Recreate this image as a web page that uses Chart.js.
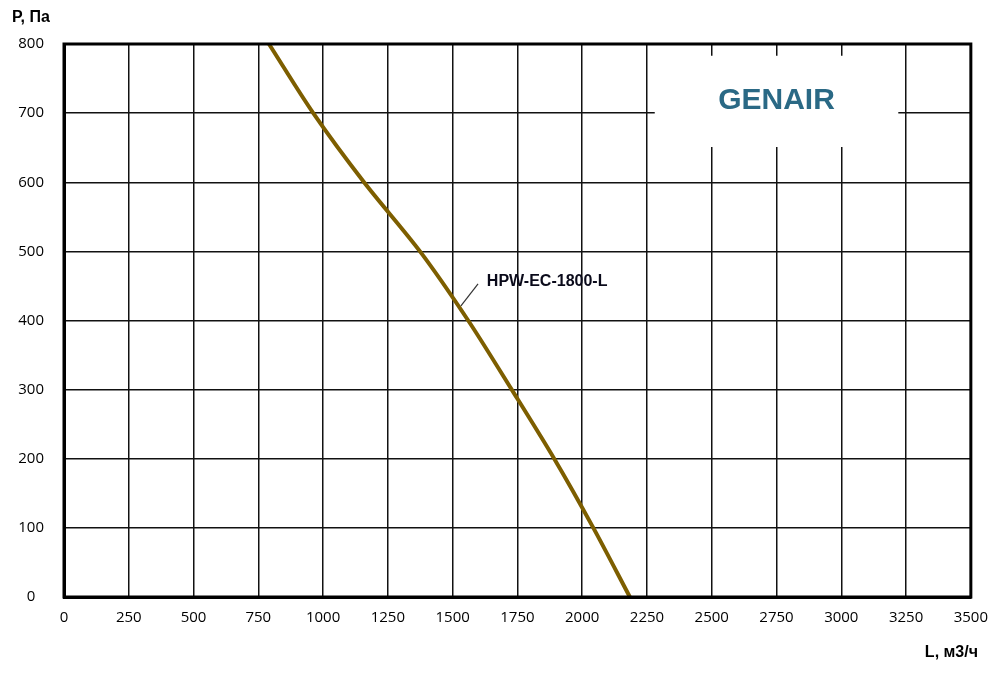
<!DOCTYPE html>
<html>
<head>
<meta charset="utf-8">
<script src="https://cdn.jsdelivr.net/npm/chart.js@4/dist/chart.umd.min.js"></script>
<style>
html,body{margin:0;padding:0;background:#fff;}
#wrap{width:1000px;height:675px;}
</style>
</head>
<body>
<div id="wrap"><canvas id="c" width="1000" height="675"></canvas></div>
<script>
// ---- data ----
const flowValues = [791, 962, 1158, 1374, 1560, 1728, 1892, 2043, 2184];
const pressureValues = [800, 700, 600, 500, 400, 300, 200, 100, 0];
const seriesName = 'HPW-EC-1800-L';
const xTickStep = 250, xMin = 0, xMax = 3500;
const yTickStep = 100, yMin = 0, yMax = 800;
const yAxisTitle = 'P, Па';
const xAxisTitle = 'L, м3/ч';
const brandText = 'GENAIR';

const points = flowValues.map((x, i) => ({x: x, y: pressureValues[i]}));

const overlay = {
  id: 'overlay',
  beforeDatasetsDraw(chart) {
    const {ctx, scales: {x, y}} = chart;
    ctx.save();
    ctx.fillStyle = '#ffffff';
    const l = x.getPixelForValue(2280), r = x.getPixelForValue(3220);
    const t = y.getPixelForValue(783), b = y.getPixelForValue(651);
    ctx.fillRect(l, t, r - l, b - t);
    ctx.restore();
  },
  afterDatasetsDraw(chart) {
    const {ctx, chartArea: a, scales: {x, y}} = chart;
    ctx.save();
    ctx.strokeStyle = '#000';
    ctx.lineWidth = 3;
    ctx.strokeRect(a.left, a.top, a.right - a.left, a.bottom - a.top);
    ctx.fillStyle = '#2a6985';
    ctx.font = 'bold 30px "Liberation Sans", Arial, sans-serif';
    ctx.textAlign = 'center';
    ctx.textBaseline = 'middle';
    ctx.fillText(brandText, x.getPixelForValue(2750), y.getPixelForValue(718));
    ctx.strokeStyle = '#333';
    ctx.lineWidth = 1.2;
    ctx.beginPath();
    ctx.moveTo(x.getPixelForValue(1532), y.getPixelForValue(421));
    ctx.lineTo(x.getPixelForValue(1598), y.getPixelForValue(453));
    ctx.stroke();
    ctx.fillStyle = '#0a0a1a';
    ctx.font = 'bold 16px "Liberation Sans", Arial, sans-serif';
    ctx.textAlign = 'left';
    ctx.fillText(seriesName, x.getPixelForValue(1632), y.getPixelForValue(456));
    ctx.fillStyle = '#000';
    ctx.font = 'bold 16px "Liberation Sans", Arial, sans-serif';
    ctx.textAlign = 'left';
    ctx.fillText(yAxisTitle, 12, 18);
    ctx.textAlign = 'right';
    ctx.fillText(xAxisTitle, 978, 653);
    ctx.restore();
  }
};

new Chart(document.getElementById('c'), {
  type: 'line',
  data: {
    datasets: [{
      label: seriesName,
      data: points,
      borderColor: '#7d5e00',
      borderWidth: 4,
      pointRadius: 0,
      fill: false,
      tension: 0.3
    }]
  },
  options: {
    responsive: false,
    animation: false,
    devicePixelRatio: 1,
    layout: {padding: {left: 0, right: 27, top: 44, bottom: 0}},
    plugins: {legend: {display: false}, tooltip: {enabled: false}},
    scales: {
      x: {
        type: 'linear', min: xMin, max: xMax,
        afterFit(s) { s.height = 78; },
        ticks: {stepSize: xTickStep, padding: 12, color: '#000',
          callback: v => String(v),
          font: {family: '"Open Sans", sans-serif', size: 15}},
        grid: {color: '#111', lineWidth: 1.5, drawTicks: false},
        border: {display: true, color: '#000', width: 3}
      },
      y: {
        type: 'linear', min: yMin, max: yMax,
        afterFit(s) { s.width = 64; },
        ticks: {stepSize: yTickStep, padding: 20, crossAlign: 'center', color: '#000',
          callback: v => String(v),
          font: {family: '"Open Sans", sans-serif', size: 15}},
        grid: {color: '#111', lineWidth: 1.5, drawTicks: false},
        border: {display: true, color: '#000', width: 3}
      }
    }
  },
  plugins: [overlay]
});
</script>
</body>
</html>
